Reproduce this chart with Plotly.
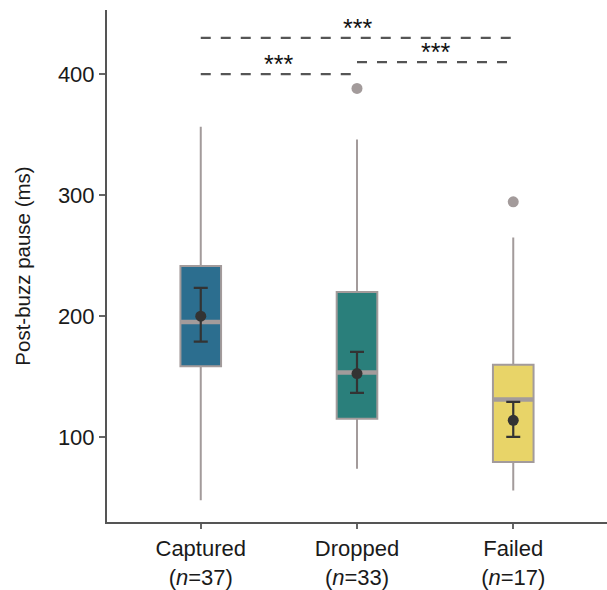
import plotly.graph_objects as go

# ---- data ----
categories = ["Captured", "Dropped", "Failed"]
n_obs = [37, 33, 17]
q1 = [158.7, 115.4, 79.6]
medians = [195.3, 153.5, 131.2]
q3 = [241.6, 220.0, 160.0]
lower_fence = [48.0, 74.0, 56.0]
upper_fence = [356.5, 346.0, 265.0]
outlier_cat = ["Dropped", "Failed"]
outlier_val = [388.2, 294.5]
means = [200.0, 152.6, 114.0]
err_low = [179.0, 136.6, 100.3]
err_high = [223.4, 170.5, 129.2]
comparisons = [("Captured", "Dropped", 400.0, "***"),
               ("Dropped", "Failed", 410.0, "***"),
               ("Captured", "Failed", 430.0, "***")]

fills = ["#2C6E8F", "#2A7F7B", "#E8D468"]
edge = "#A39B9B"
dark = "#333333"
FONT = "Liberation Sans, Arial, sans-serif"
BOX_W = 0.26
XR = [-0.6, 2.6]

fig = go.Figure()
for i, c in enumerate(categories):
    fig.add_trace(go.Box(
        x=[c], q1=[q1[i]], median=[medians[i]], q3=[q3[i]],
        lowerfence=[lower_fence[i]], upperfence=[upper_fence[i]],
        fillcolor=fills[i], line=dict(color=edge, width=2),
        width=BOX_W, whiskerwidth=0, boxpoints=False, showlegend=False,
        hoverinfo="skip"))

# thicker median lines (numeric overlay axis, drawn above the boxes)
mx, my = [], []
for i, m in enumerate(medians):
    mx += [i - BOX_W / 2, i + BOX_W / 2, None]
    my += [m, m, None]
fig.add_trace(go.Scatter(x=mx, y=my, xaxis="x2", mode="lines",
                         line=dict(color=edge, width=4.5),
                         showlegend=False, hoverinfo="skip"))

fig.add_trace(go.Scatter(
    x=[categories.index(c) for c in outlier_cat], y=outlier_val, xaxis="x2",
    mode="markers", marker=dict(color=edge, size=11),
    showlegend=False, hoverinfo="skip"))

fig.add_trace(go.Scatter(
    x=list(range(len(categories))), y=means, xaxis="x2", mode="markers",
    marker=dict(color=dark, size=11),
    error_y=dict(type="data", symmetric=False,
                 array=[h - m for h, m in zip(err_high, means)],
                 arrayminus=[m - l for m, l in zip(means, err_low)],
                 color=dark, thickness=2.2, width=7),
    showlegend=False, hoverinfo="skip"))

for a, b, yv, label in comparisons:
    ia, ib = categories.index(a), categories.index(b)
    fig.add_shape(type="line", xref="x2", yref="y",
                  x0=ia, x1=ib, y0=yv, y1=yv,
                  line=dict(color="#555555", width=2.2, dash="10px,10px"))
    fig.add_annotation(x=(ia + ib) / 2, y=yv, xref="x2", yref="y",
                       text=label, showarrow=False, yanchor="middle",
                       yshift=10, font=dict(family=FONT, size=25, color="#111111"))

fig.update_layout(
    width=607, height=590,
    margin=dict(l=107, r=0, t=10, b=68),
    paper_bgcolor="white", plot_bgcolor="white",
    font=dict(family=FONT, size=21, color="#1a1a1a"),
    xaxis=dict(
        type="category", range=XR, automargin=False,
        tickmode="array", tickvals=categories,
        ticktext=[f"{c}<br>(<i>n</i>={k})" for c, k in zip(categories, n_obs)],
        showline=True, linecolor="#555555", linewidth=2,
        ticks="outside", ticklen=5, tickwidth=2, tickcolor="#666666",
        ticklabelstandoff=1,
        showgrid=False, zeroline=False,
        tickfont=dict(family=FONT, size=22, color="#1a1a1a")),
    xaxis2=dict(overlaying="x", range=XR, visible=False, automargin=False),
    yaxis=dict(
        range=[30, 453], automargin=False,
        tickvals=[100, 200, 300, 400],
        showline=True, linecolor="#555555", linewidth=2,
        ticks="outside", ticklen=6, tickwidth=2, tickcolor="#666666",
        showgrid=False, zeroline=False,
        tickfont=dict(family=FONT, size=22, color="#1a1a1a"),
        title=dict(text="Post-buzz pause (ms)", standoff=22,
                   font=dict(family=FONT, size=20.5, color="#1a1a1a"))),
)

fig.write_html("out.html", config={"displayModeBar": False},
               post_script="document.body.style.margin='0';document.body.style.overflow='hidden';")
